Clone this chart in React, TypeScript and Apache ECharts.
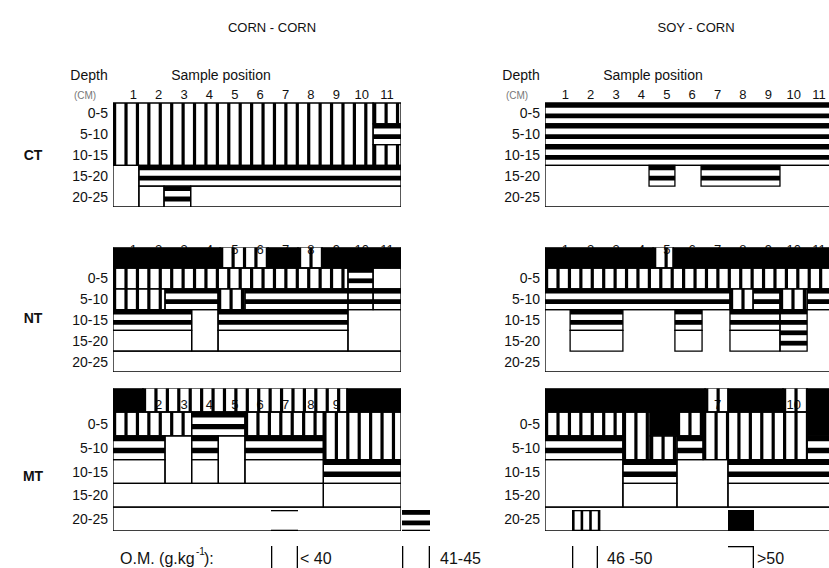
import React, { useEffect, useRef } from "react";
import * as echarts from "echarts";

// ---------- data ----------
const panelTitles = ["CORN - CORN", "SOY - CORN"];
const tillageLabels = ["CT", "NT", "MT"];
const depthLabels = ["0-5", "5-10", "10-15", "15-20", "20-25"];
const depthCenters = [2.5, 7.5, 12.5, 17.5, 22.5];
const samplePositions = [1, 2, 3, 4, 5, 6, 7, 8, 9, 10, 11];
const omClassLabels = ["< 40", "41-45", "46 -50", ">50"];
const omTitleParts = ["O.M. (g.kg", "-1", "):"];

// cell = [fromPosition, toPosition, fromDepth, toDepth, omClass]
// omClass: 0 = <40, 1 = 41-45, 2 = 46-50, 3 = >50 ; depth -5..0 is the surface band
const ctCornCorn = [
  [0.2, 10.45, 0, 15, 2],
  [10.45, 11.55, 0, 5, 2],
  [10.45, 11.55, 5, 10, 1],
  [10.45, 11.55, 10, 15, 2],
  [0.2, 1.22, 15, 25, 0],
  [1.22, 11.55, 15, 20, 1],
  [1.22, 2.21, 20, 25, 0],
  [2.21, 3.26, 20, 25, 1],
  [3.26, 11.55, 20, 25, 0],
];
const ctSoyCorn = [
  [0.2, 11.55, 0, 5, 1],
  [0.2, 11.55, 5, 10, 1],
  [0.2, 11.55, 10, 15, 1],
  [0.2, 11.55, 15, 25, 0],
  [4.3, 5.32, 15, 20, 1],
  [6.35, 9.46, 15, 20, 1],
];
const ntCornCorn = [
  [0.2, 4.42, -5, 0, 3],
  [4.42, 6.31, -5, 0, 2],
  [6.31, 7.49, -5, 0, 3],
  [7.49, 8.44, -5, 0, 2],
  [8.44, 11.55, -5, 0, 3],
  [0.2, 9.46, 0, 5, 2],
  [9.46, 10.45, 0, 5, 1],
  [10.45, 11.55, 0, 5, 0],
  [0.2, 2.25, 5, 10, 2],
  [2.25, 4.34, 5, 10, 1],
  [4.34, 5.4, 5, 10, 2],
  [5.4, 9.46, 5, 10, 1],
  [9.46, 10.45, 5, 10, 1],
  [10.45, 11.55, 5, 10, 1],
  [0.2, 3.3, 10, 15, 1],
  [3.3, 4.34, 10, 20, 0],
  [4.34, 9.46, 10, 15, 1],
  [9.46, 11.55, 10, 20, 0],
  [0.2, 3.3, 15, 20, 0],
  [4.34, 9.46, 15, 20, 0],
  [0.2, 11.55, 20, 25, 0],
];
const ntSoyCorn = [
  [0.2, 4.46, -5, 0, 3],
  [4.46, 5.25, -5, 0, 2],
  [5.25, 11.55, -5, 0, 3],
  [0.2, 11.55, 0, 5, 2],
  [0.2, 7.49, 5, 10, 1],
  [7.49, 8.4, 5, 10, 2],
  [8.4, 9.46, 5, 10, 1],
  [9.46, 10.53, 5, 10, 2],
  [10.53, 11.55, 5, 10, 1],
  [0.2, 11.55, 10, 25, 0],
  [1.19, 3.27, 10, 15, 1],
  [5.32, 6.39, 10, 15, 1],
  [7.49, 9.46, 10, 15, 1],
  [9.46, 10.53, 10, 20, 1],
  [1.19, 3.27, 15, 20, 0],
  [5.32, 6.39, 15, 20, 0],
  [7.49, 9.46, 15, 20, 0],
];
const mtCornCorn = [
  [0.2, 1.38, -5, 0, 3],
  [1.38, 9.42, -5, 0, 2],
  [9.42, 11.55, -5, 0, 3],
  [0.2, 3.3, 0, 5, 2],
  [3.3, 5.4, 0, 5, 1],
  [5.4, 8.49, 0, 5, 2],
  [8.49, 11.55, 0, 10, 2],
  [0.2, 2.25, 5, 10, 1],
  [2.25, 3.3, 5, 15, 0],
  [3.3, 4.35, 5, 10, 1],
  [4.35, 5.4, 5, 15, 0],
  [5.4, 8.49, 5, 10, 1],
  [0.2, 2.25, 10, 15, 0],
  [3.3, 4.35, 10, 15, 0],
  [5.4, 8.49, 10, 15, 0],
  [8.49, 11.55, 10, 15, 1],
  [0.2, 8.49, 15, 20, 0],
  [8.49, 11.55, 15, 20, 0],
  [0.2, 11.55, 20, 25, 0],
];
const mtSoyCorn = [
  [0.2, 6.51, -5, 0, 3],
  [6.51, 7.41, -5, 0, 2],
  [7.41, 9.58, -5, 0, 3],
  [9.58, 10.53, -5, 0, 2],
  [10.53, 11.55, -5, 0, 3],
  [0.2, 3.27, 0, 5, 2],
  [3.27, 4.34, 0, 10, 2],
  [4.34, 5.4, 0, 5, 3],
  [5.4, 6.43, 0, 5, 2],
  [6.43, 10.53, 0, 10, 2],
  [10.53, 11.55, 0, 5, 3],
  [0.2, 3.27, 5, 10, 1],
  [4.34, 5.4, 5, 10, 2],
  [5.4, 6.43, 5, 10, 1],
  [10.53, 11.55, 5, 10, 1],
  [0.2, 3.27, 10, 20, 0],
  [3.27, 5.4, 10, 15, 1],
  [5.4, 7.41, 10, 20, 0],
  [7.41, 11.55, 10, 15, 1],
  [3.27, 5.4, 15, 20, 0],
  [7.41, 11.55, 15, 20, 0],
  [0.2, 11.55, 20, 25, 0],
];

// ---------- layout / style ----------
const INK = "#000";
const TEXT = "#111";
const FONT = "'Liberation Sans', Arial, sans-serif";
const NARROW = "'Liberation Sans Narrow', 'Liberation Sans', Arial, sans-serif";
const X_MIN = 0.2;
const X_MAX = 11.55;
const COL_LEFT = [113, 545];
const GRID_W = 288;
const ROW_TOP = [82.2, 247.2, 388.2];
const ROW_H = [124.8, 124.8, 142.8];
const LABEL_SHIFT = [7, -2, 4];
const NUM_MARGIN = [-11.8, -2, -16];

const panels = [
  { cells: ctCornCorn, col: 0, row: 0 },
  { cells: ctSoyCorn, col: 1, row: 0 },
  { cells: ntCornCorn, col: 0, row: 1 },
  { cells: ntSoyCorn, col: 1, row: 1 },
  { cells: mtCornCorn, col: 0, row: 2 },
  { cells: mtSoyCorn, col: 1, row: 2 },
];

const rectEl = (x: number, y: number, w: number, h: number) => ({
  type: "rect",
  shape: { x, y, width: w, height: h },
  style: { fill: INK },
});

const renderCell = (_params: any, api: any) => {
  const x0 = api.value(0);
  const x1 = api.value(1);
  const d0 = api.value(2);
  const d1 = api.value(3);
  const cls = api.value(4);
  const a = api.coord([x0, d0]);
  const b = api.coord([x1, d1]);
  const left = Math.min(a[0], b[0]);
  const right = Math.max(a[0], b[0]);
  const top = Math.min(a[1], b[1]);
  const bottom = Math.max(a[1], b[1]);
  const w = right - left;
  const h = bottom - top;
  const children: any[] = [];
  if (cls === 3) {
    children.push(rectEl(left, top, w, h));
  } else if (cls === 1) {
    const pitch = Math.abs(api.size([0, 5])[1]) / 2;
    const bar = pitch * 0.46;
    for (let y = top; y < bottom - 1; y += pitch) {
      children.push(rectEl(left, y, w, Math.min(bar, bottom - y)));
    }
  } else if (cls === 2) {
    const pitch = Math.abs(api.size([0.45, 0])[0]);
    const lw = 3.2;
    for (let x = left; x < right - 1; x += pitch) {
      children.push(rectEl(x, top, Math.min(lw, right - x), h));
    }
  }
  children.push({
    type: "rect",
    shape: { x: left, y: top, width: w, height: h },
    style: { fill: "none", stroke: INK, lineWidth: 1.3 },
  });
  return { type: "group", children };
};

const txt = (
  text: string,
  x: number,
  y: number,
  size: number,
  align: string,
  extra: any = {}
) => ({
  type: "text",
  x,
  y,
  silent: true,
  style: {
    text,
    fill: TEXT,
    fontSize: size,
    fontFamily: FONT,
    textAlign: align,
    textVerticalAlign: "middle",
    align,
    verticalAlign: "middle",
    ...extra,
  },
});

const legendBoxes = [
  { x0: 271, x1: 298, tx: 300 },
  { x0: 402, x1: 430, tx: 440 },
  { x0: 572, x1: 598, tx: 607 },
  { x0: 728, x1: 754, tx: 757 },
];

function buildGraphics() {
  const g: any[] = [];
  g.push(txt(panelTitles[0], 272, 27, 13, "center", { fontFamily: NARROW }));
  g.push(txt(panelTitles[1], 696, 27, 13, "center", { fontFamily: NARROW }));
  COL_LEFT.forEach((lx) => {
    g.push(txt("Depth", lx - 24, 75, 14, "center"));
    g.push(txt("(CM)", lx - 28, 95, 10, "center", { fill: "#777" }));
    g.push(txt("Sample position", lx + 108, 75, 14, "center"));
  });
  const rowMid = [155, 318, 476];
  tillageLabels.forEach((t, i) =>
    g.push(txt(t, 33, rowMid[i], 14, "center", { fontWeight: "bold" }))
  );
  // O.M. title with superscript
  g.push(txt(omTitleParts[0], 120, 558, 16, "left"));
  g.push(txt(omTitleParts[1], 196, 551, 10, "left"));
  g.push(txt(omTitleParts[2], 204, 558, 16, "left"));
  const yTop = 510;
  const yBot = 531;
  legendBoxes.forEach((b, i) => {
    const w = b.x1 - b.x0;
    if (i === 0) {
      g.push(rectEl(b.x0, yTop, w, 1.3));
      g.push(rectEl(b.x0, yBot - 1.3, w, 1.3));
    } else if (i === 1) {
      g.push(rectEl(b.x0, yTop, w, 4.8));
      g.push(rectEl(b.x0, yTop + 10.5, w, 4.8));
      g.push(rectEl(b.x0, yBot - 1.3, w, 1.3));
    } else if (i === 2) {
      g.push(rectEl(b.x0, yTop, w, 1.3));
      g.push(rectEl(b.x0, yBot - 1.3, w, 1.3));
      for (let k = 0; k < 4; k++) g.push(rectEl(b.x0 + k * 8.6, yTop, 2.6, yBot - yTop));
    } else {
      g.push(rectEl(b.x0, yTop, w, yBot - yTop));
    }
    if (i < 3) {
      g.push(rectEl(b.x0, 546, 1.3, 22));
      g.push(rectEl(b.x1 - 1.3, 546, 1.3, 22));
    } else {
      g.push(rectEl(b.x0, 546, w, 1.3));
      g.push(rectEl(b.x1 - 1.3, 546, 1.3, 22));
    }
    g.push(txt(omClassLabels[i], b.tx, 558, 16, "left"));
  });
  return g;
}

export default function App() {
  const ref = useRef<HTMLDivElement>(null);
  useEffect(() => {
    document.body.style.margin = "0";
    if (!ref.current) return;
    const chart = echarts.init(ref.current, undefined, { renderer: "svg" });
    const option: any = {
      animation: false,
      backgroundColor: "#fff",
      grid: panels.map((p) => ({
        left: COL_LEFT[p.col],
        top: ROW_TOP[p.row],
        width: GRID_W,
        height: ROW_H[p.row],
        containLabel: false,
        outerBoundsMode: "none",
      })),
      xAxis: panels.map((p, i) => ({
        type: "value",
        gridIndex: i,
        min: X_MIN,
        max: X_MAX,
        position: "top",
        axisLine: { show: false },
        axisTick: { show: false },
        splitLine: { show: false },
        axisLabel: {
          customValues: samplePositions,
          formatter: (v: number) => String(v),
          margin: NUM_MARGIN[p.row],
          verticalAlign: "middle",
          fontSize: 13,
          color: TEXT,
          fontFamily: FONT,
        },
      })),
      yAxis: panels.map((p, i) => {
        const s = LABEL_SHIFT[p.row];
        return {
          type: "value",
          gridIndex: i,
          min: -5,
          max: 25,
          inverse: true,
          axisLine: { show: false },
          axisTick: { show: false },
          splitLine: { show: false },
          axisLabel: {
            customValues: depthCenters,
            formatter: (v: number) => {
              const k = depthCenters.indexOf(v);
              return k >= 0 ? depthLabels[k] : "";
            },
            margin: 5,
            fontSize: 14,
            color: TEXT,
            fontFamily: FONT,
            verticalAlign: "middle",
            padding: s >= 0 ? [2 * s, 0, 0, 0] : [0, 0, -2 * s, 0],
          },
        };
      }),
      series: panels.map((p, i) => ({
        type: "custom",
        xAxisIndex: i,
        yAxisIndex: i,
        renderItem: renderCell,
        data: p.cells,
        clip: true,
        silent: true,
      })),
      graphic: buildGraphics(),
    };
    chart.setOption(option);
    return () => chart.dispose();
  }, []);
  return <div ref={ref} style={{ width: 829, height: 568 }} />;
}
